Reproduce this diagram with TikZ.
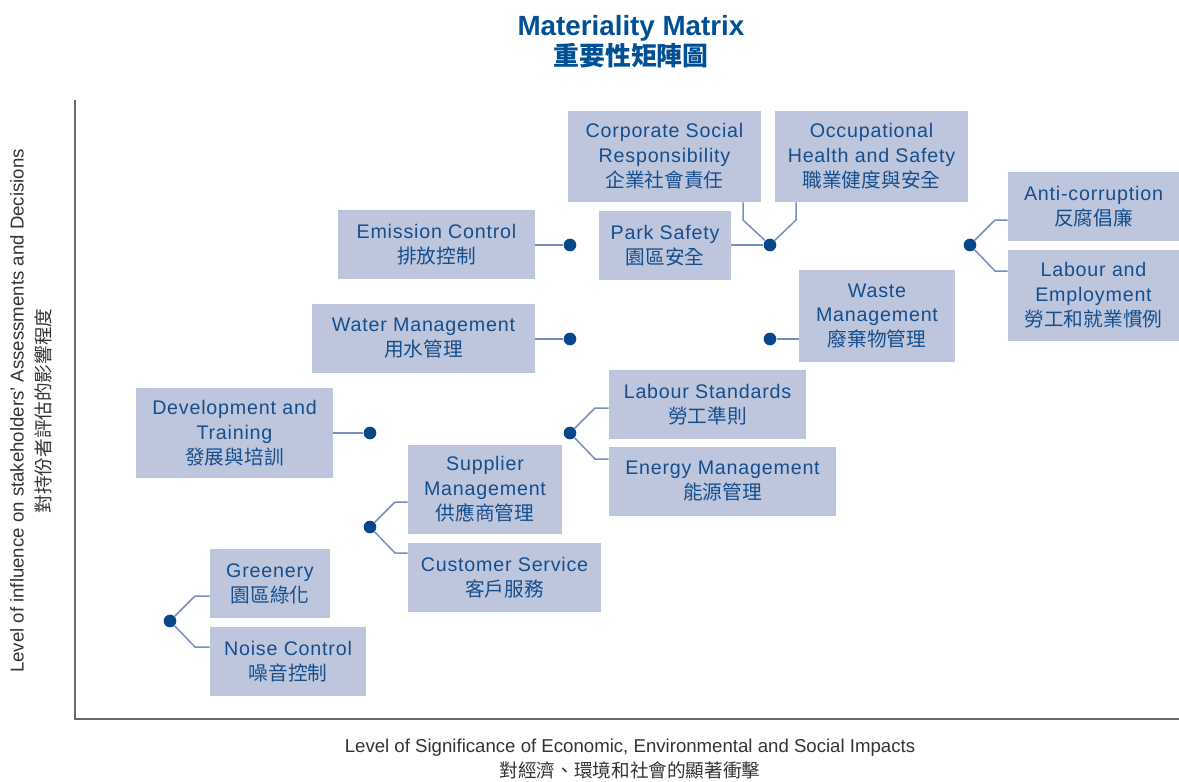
\documentclass[tikz,border=0pt]{standalone}
\usepackage{fontspec}
\setmainfont{Liberation Sans}
\newfontfamily\boxfont[LetterSpace=4]{Liberation Sans}
\newfontfamily\cjk{Noto Sans CJK TC}
\usetikzlibrary{calc}
\definecolor{boxfill}{RGB}{190,198,222}
\definecolor{boxtext}{RGB}{22,78,140}
\definecolor{titleblue}{RGB}{0,80,150}
\definecolor{dotblue}{RGB}{8,72,138}
\definecolor{linkblue}{RGB}{122,142,190}
\definecolor{axisgray}{RGB}{105,105,105}
\tikzstyle{topic}=[rectangle,fill=boxfill,inner sep=0pt,align=center,text=boxtext,font=\fontsize{11.2}{14.2}\selectfont\boxfont]
\tikzstyle{dot}=[circle,fill=dotblue,minimum size=7.2pt,inner sep=0pt]
\tikzstyle{link}=[draw,linkblue,line width=0.85pt]
\tikzstyle{axis}=[draw,axisgray,line width=1.1pt]
\tikzstyle{axislabel}=[text=black!80,align=center]

\begin{document}
\begin{tikzpicture}[x=0.02cm,y=-0.02cm]
    \useasboundingbox (0,0) rectangle (1179,781);

    % Title
    \node[text=titleblue,align=center] (title) at (631,42)
        {\fontsize{15.8}{17}\selectfont\bfseries Materiality Matrix\\
         {\cjk\bfseries\fontsize{14.7}{17}\selectfont 重要性矩陣圖}};

    % Axes
    \coordinate (ytop) at (75,100);
    \coordinate (origin) at (75,719);
    \coordinate (xend) at (1179,719);
    \path[axis] (ytop) -- (origin) -- (xend);

    \node[axislabel,rotate=90,font=\fontsize{10.6}{15.3}\selectfont] (ylab) at (31,411)
        {Level of influence on stakeholders' Assessments and Decisions\\{\cjk 對持份者評估的影響程度}};
    \node[axislabel,font=\fontsize{10.6}{14.7}\selectfont] (xlab) at (630,759)
        {Level of Significance of Economic, Environmental and Social Impacts\\{\cjk 對經濟、環境和社會的顯著衝擊}};

    % First we draw the topic boxes
    \foreach \xa/\ya/\xb/\yb/\name/\txt in {
        568/111/761/202/csr/{Corporate Social\\Responsibility\\{\cjk 企業社會責任}},
        775/111/968/202/ohs/{Occupational\\Health and Safety\\{\cjk 職業健度與安全}},
        599/211/731/280/park/{Park Safety\\{\cjk 園區安全}},
        338/210/535/279/emis/{Emission Control\\{\cjk 排放控制}},
        312/304/535/373/water/{Water Management\\{\cjk 用水管理}},
        799/270/955/362/waste/{Waste\\Management\\{\cjk 廢棄物管理}},
        1008/172/1179/241/anti/{Anti-corruption\\{\cjk 反腐倡廉}},
        1008/250/1179/341/employ/{Labour and\\Employment\\{\cjk 勞工和就業慣例}},
        136/388/333/478/train/{Development and\\Training\\{\cjk 發展與培訓}},
        609/370/806/439/lstd/{Labour Standards\\{\cjk 勞工準則}},
        609/447/836/516/energy/{Energy Management\\{\cjk 能源管理}},
        408/445/562/534/supply/{Supplier\\Management\\{\cjk 供應商管理}},
        408/543/601/612/cust/{Customer Service\\{\cjk 客戶服務}},
        210/549/330/618/green/{Greenery\\{\cjk 園區綠化}},
        210/627/366/696/noise/{Noise Control\\{\cjk 噪音控制}}}
        \node[topic,minimum width={(\xb-\xa)*0.02cm},minimum height={(\yb-\ya)*0.02cm}]
            (\name) at ({(\xa+\xb)/2},{(\ya+\yb)/2}) {\txt};

    % Then the dots on the grid
    \foreach \pos/\name in {{(570,245)/dEmis},{(770,245)/dPark},{(970,245)/dAnti},
                            {(570,339)/dWater},{(770,339)/dWaste},
                            {(370,433)/dTrain},{(570,433)/dLstd},
                            {(370,527)/dSupply},{(170,621)/dGreen}}
        \node[dot] (\name) at \pos {};

    % Connect dots with boxes
    \foreach \dest/\src in {dEmis/emis, dPark/park, dWater/water, dTrain/train}
        \path[link] (\dest) -- (\dest -| \src.east);
    \path[link] (dWaste) -- (dWaste -| waste.west);

    \path[link] (dPark) -- ++(-27,-25) coordinate (c1) -- (c1 |- csr.south);
    \path[link] (dPark) -- ++(26,-25) coordinate (c2) -- (c2 |- ohs.south);

    \foreach \dot/\up/\down in {dAnti/anti/employ, dLstd/lstd/energy, dSupply/supply/cust, dGreen/green/noise}{
        \path[link] (\dot) -- ++(25,-25) coordinate (cu) -- (cu -| \up.west);
        \path[link] (\dot) -- ++(25,26) coordinate (cd) -- (cd -| \down.west);
    }
\end{tikzpicture}
\end{document}
